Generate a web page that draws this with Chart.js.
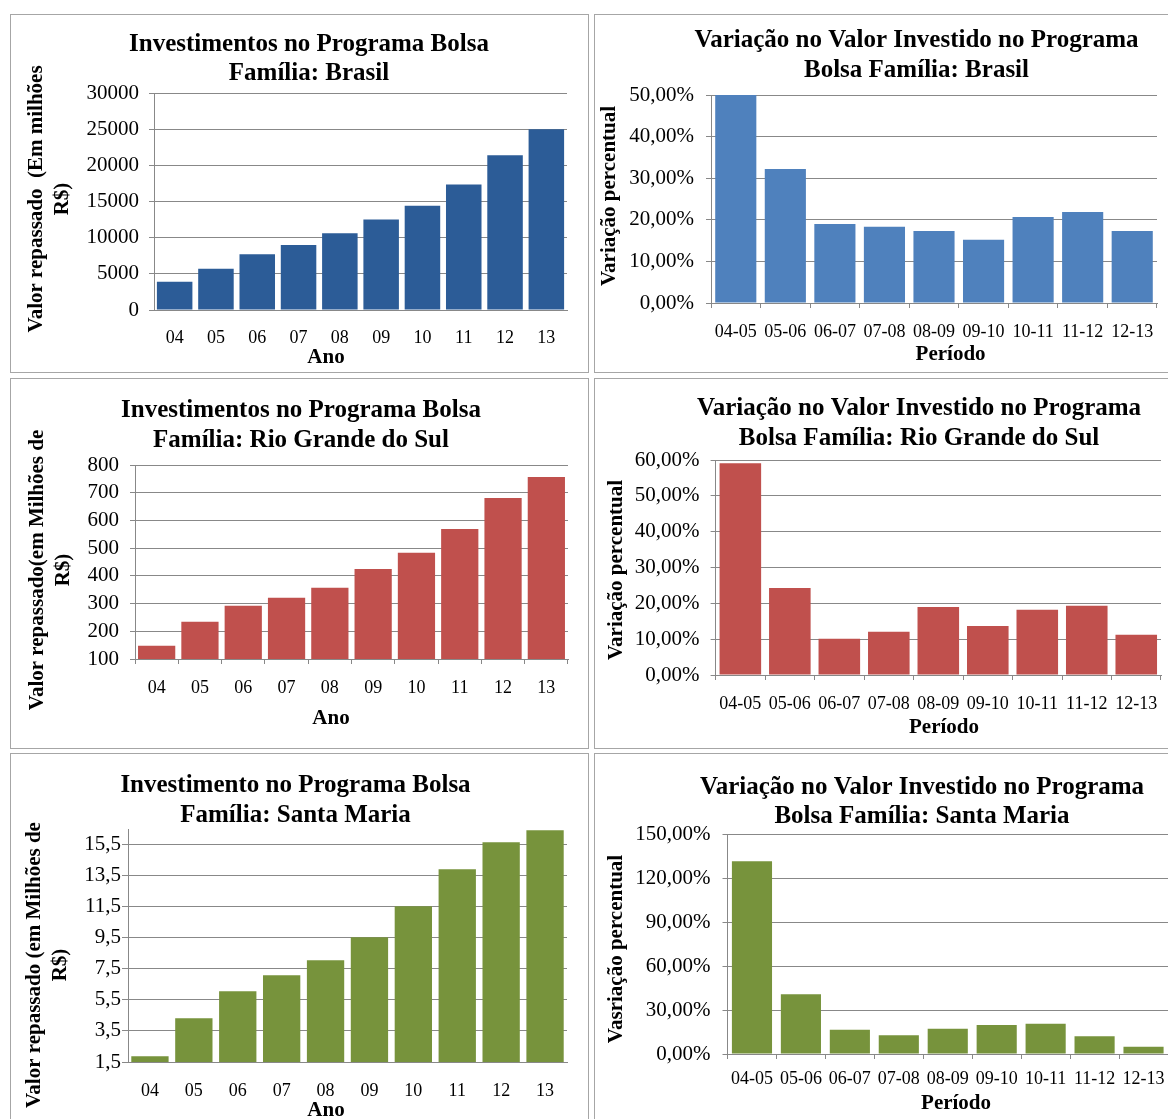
<!DOCTYPE html>
<html>
<head>
<meta charset="utf-8">
<script src="https://cdn.jsdelivr.net/npm/chart.js@4.4.0/dist/chart.umd.min.js"></script>
<style>
html,body{margin:0;padding:0;background:#fff;width:1168px;height:1119px;overflow:hidden;position:relative}
.box{position:absolute;border:1px solid #a6a6a6;box-sizing:border-box}
canvas{position:absolute}
</style>
</head>
<body>
<div class="box" style="left:10px;top:14px;width:579px;height:359px"></div>
<div class="box" style="left:594px;top:14px;width:600px;height:359px"></div>
<div class="box" style="left:10px;top:378px;width:579px;height:371px"></div>
<div class="box" style="left:594px;top:378px;width:600px;height:371px"></div>
<div class="box" style="left:10px;top:753px;width:579px;height:400px"></div>
<div class="box" style="left:594px;top:753px;width:600px;height:400px"></div>
<canvas id="c1"></canvas>
<canvas id="c2"></canvas>
<canvas id="c3"></canvas>
<canvas id="c4"></canvas>
<canvas id="c5"></canvas>
<canvas id="c6"></canvas>
<script>
// ---------- data ----------
const anos = ['04', '05', '06', '07', '08', '09', '10', '11', '12', '13'];
const periodos = ['04-05', '05-06', '06-07', '07-08', '08-09', '09-10', '10-11', '11-12', '12-13'];

const brasilValores = [3900, 5700, 7700, 9000, 10600, 12500, 14400, 17350, 21400, 25000];
const brasilVariacao = [50.0, 32.2, 19.0, 18.3, 17.3, 15.2, 20.7, 21.9, 17.3];

const rsValores = [148, 234, 292, 321, 357, 425, 483, 569, 681, 757];
const rsVariacao = [59.1, 24.3, 10.1, 12.1, 19.0, 13.7, 18.2, 19.3, 11.2];

const smValores = [1.87, 4.31, 6.05, 7.08, 8.05, 9.53, 11.53, 13.91, 15.65, 16.42];
const smVariacao = [131.5, 40.8, 16.6, 12.8, 17.3, 19.8, 20.7, 12.1, 5.0];

const smTicks = [1.5, 3.5, 5.5, 7.5, 9.5, 11.5, 13.5, 15.5];

// ---------- styling ----------
const FONT = '"Liberation Serif", "Times New Roman", serif';
const GRID = '#888888';
Chart.defaults.font.family = FONT;
Chart.defaults.color = '#000';

const fmtInt = v => String(v);
const fmtPct = v => v.toFixed(2).replace('.', ',') + '%';
const fmtDec = v => v.toFixed(1).replace('.', ',');

// axis titles (x below the axis, y rotated at the left), placed relative to the chart area
const axisTitlePlugin = {
  id: 'axisTitles',
  afterDraw(chart, args, opts) {
    const {ctx, chartArea} = chart;
    ctx.save();
    ctx.font = 'bold 21px ' + FONT;
    ctx.fillStyle = '#000';
    ctx.textAlign = 'center';
    ctx.textBaseline = 'middle';
    if (opts.xText) {
      ctx.fillText(opts.xText, (chartArea.left + chartArea.right) / 2 + opts.xdx, chartArea.bottom + opts.xdy);
    }
    if (opts.yText) {
      const lines = Array.isArray(opts.yText) ? opts.yText : [opts.yText];
      const cy = (chartArea.top + chartArea.bottom) / 2 + opts.ydy;
      lines.forEach((line, i) => {
        ctx.save();
        ctx.translate(opts.yx + i * opts.ylh, cy);
        ctx.rotate(-Math.PI / 2);
        ctx.fillText(line, 0, 0);
        ctx.restore();
      });
    }
    ctx.restore();
  }
};

function makeChart(id, d, s) {
  const canvas = document.getElementById(id);
  const W = Math.round(2 * (s.Tc - s.Cl));
  const H = s.Cb - s.Ct;
  canvas.width = W; canvas.height = H;
  canvas.style.left = s.Cl + 'px'; canvas.style.top = s.Ct + 'px';
  canvas.style.width = W + 'px'; canvas.style.height = H + 'px';
  const rightW = s.Cl + W - s.R;
  const tPadTop = s.t1 - s.lh / 2 - s.Ct;
  const tPadBottom = s.T - s.Ct - tPadTop - 2 * s.lh;
  const yW = s.L - s.Cl;
  const xH = s.Cb - s.B;

  const yScale = {
    type: 'linear', position: 'left',
    min: d.min, max: d.max,
    bounds: 'data',
    ticks: {
      stepSize: d.step, callback: d.fmt, color: '#000',
      font: {size: 21}, padding: s.yPad, autoSkip: false
    },
    grid: {color: GRID, drawTicks: true, tickLength: s.yTL},
    border: {display: true, color: GRID},
    title: {display: false},
    afterFit: sc => { sc.width = yW; }
  };
  if (d.ticks) {
    yScale.afterBuildTicks = sc => { sc.ticks = d.ticks.map(v => ({value: v})); };
  }

  return new Chart(canvas, {
    type: 'bar',
    data: {
      labels: d.labels,
      datasets: [{
        data: d.values, backgroundColor: d.color, xAxisID: 'x', yAxisID: 'y',
        barPercentage: d.barPct, categoryPercentage: 1, borderWidth: 0
      }]
    },
    options: {
      responsive: false, animation: false, devicePixelRatio: 1,
      events: [],
      layout: {padding: 0},
      plugins: {
        legend: {display: false},
        tooltip: {enabled: false},
        title: {
          display: true, text: d.title, color: '#000',
          font: {size: 25, weight: 'bold', lineHeight: s.lh + 'px'},
          padding: {top: tPadTop, bottom: tPadBottom}
        },
        axisTitles: {
          xText: d.xTitle, xdx: s.xdx, xdy: s.xdy,
          yText: d.yTitle, yx: s.yTx - s.Cl, ylh: 26, ydy: s.ydy
        }
      },
      scales: {
        x: {
          type: 'category', offset: true,
          grid: {display: true, drawOnChartArea: false, drawTicks: s.xTicks, tickLength: 5, color: GRID, offset: true},
          border: {display: true, color: GRID},
          ticks: {color: '#000', font: {size: 18}, padding: s.xPad, maxRotation: 0, autoSkip: false},
          afterFit: sc => { sc.height = xH; }
        },
        y: yScale,
        spacer: {
          type: 'linear', position: 'right', display: true,
          grid: {display: false, drawTicks: false},
          ticks: {display: false},
          border: {display: false},
          title: {display: false},
          afterFit: sc => { sc.width = rightW; }
        }
      }
    },
    plugins: [axisTitlePlugin]
  });
}

// Brasil - valores
makeChart('c1', {
  labels: anos, values: brasilValores, color: '#2C5C97', barPct: 0.86,
  min: 0, max: 30000, step: 5000, fmt: fmtInt,
  title: ['Investimentos no Programa Bolsa', 'Família: Brasil'],
  yTitle: ['Valor repassado  (Em milhões', 'R$)'], xTitle: 'Ano'
}, {Cl: 0, Ct: 15, Cb: 372, L: 154, R: 567, T: 93, B: 310, Tc: 309, t1: 44.5, lh: 29,
    yTx: 36.5, ydy: -2.5, yPad: 10, yTL: 5, xTicks: false, xPad: 17, xdx: -34.5, xdy: 48});

// Brasil - variação
makeChart('c2', {
  labels: periodos, values: brasilVariacao, color: '#4F81BD', barPct: 0.83,
  min: 0, max: 50, step: 10, fmt: fmtPct,
  title: ['Variação no Valor Investido no Programa', 'Bolsa Família: Brasil'],
  yTitle: 'Variação percentual', xTitle: 'Período'
}, {Cl: 595, Ct: 15, Cb: 372, L: 711, R: 1157, T: 95, B: 303, Tc: 916.5, t1: 41, lh: 30,
    yTx: 609.3, ydy: -3, yPad: 12, yTL: 5, xTicks: true, xPad: 13, xdx: 16.6, xdy: 52});

// Rio Grande do Sul - valores
makeChart('c3', {
  labels: anos, values: rsValores, color: '#C0504D', barPct: 0.86,
  min: 100, max: 800, step: 100, fmt: fmtInt,
  title: ['Investimentos no Programa Bolsa', 'Família: Rio Grande do Sul'],
  yTitle: ['Valor repassado(em Milhões de', 'R$)'], xTitle: 'Ano'
}, {Cl: 0, Ct: 379, Cb: 748, L: 135, R: 568, T: 465, B: 659, Tc: 301, t1: 411, lh: 30,
    yTx: 37.6, ydy: 8, yPad: 11, yTL: 5, xTicks: true, xPad: 13, xdx: -20.5, xdy: 60});

// Rio Grande do Sul - variação
makeChart('c4', {
  labels: periodos, values: rsVariacao, color: '#C0504D', barPct: 0.84,
  min: 0, max: 60, step: 10, fmt: fmtPct,
  title: ['Variação no Valor Investido no Programa', 'Bolsa Família: Rio Grande do Sul'],
  yTitle: 'Variação percentual', xTitle: 'Período'
}, {Cl: 595, Ct: 379, Cb: 748, L: 715.6, R: 1161, T: 460, B: 675, Tc: 919, t1: 408.5, lh: 30,
    yTx: 616.7, ydy: 2.5, yPad: 11, yTL: 5, xTicks: true, xPad: 13, xdx: 5.7, xdy: 53});

// Santa Maria - valores
makeChart('c5', {
  labels: anos, values: smValores, color: '#77933C', barPct: 0.85,
  min: 1.5, max: 16.5, step: 2, fmt: fmtDec, ticks: smTicks,
  title: ['Investimento no Programa Bolsa', 'Família: Santa Maria'],
  yTitle: ['Valor repassado (em Milhões de', 'R$)'], xTitle: 'Ano'
}, {Cl: 0, Ct: 754, Cb: 1119, L: 128, R: 567, T: 829, B: 1062, Tc: 295.5, t1: 785.5, lh: 30,
    yTx: 35, ydy: 19.5, yPad: 1, yTL: 6, xTicks: false, xPad: 18, xdx: -21.5, xdy: 49});

// Santa Maria - variação
makeChart('c6', {
  labels: periodos, values: smVariacao, color: '#77933C', barPct: 0.82,
  min: 0, max: 150, step: 30, fmt: fmtPct,
  title: ['Variação no Valor Investido no Programa', 'Bolsa Família: Santa Maria'],
  yTitle: 'Vasriação percentual', xTitle: 'Período'
}, {Cl: 595, Ct: 754, Cb: 1119, L: 727.5, R: 1168, T: 834, B: 1054, Tc: 922, t1: 787.5, lh: 29.5,
    yTx: 616.7, ydy: 5, yPad: 12, yTL: 5, xTicks: true, xPad: 9, xdx: 8.3, xdy: 50});
</script>
</body>
</html>
